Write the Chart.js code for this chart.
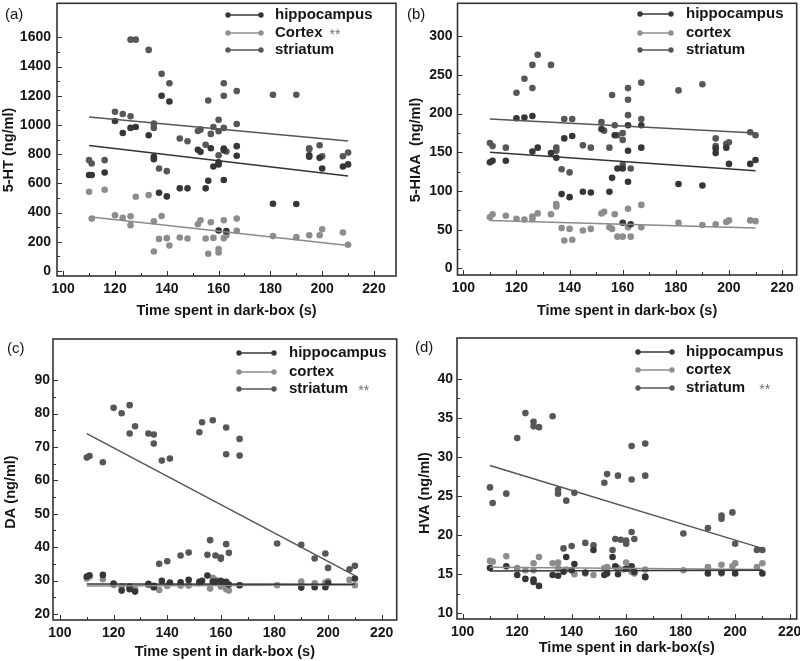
<!DOCTYPE html>
<html>
<head>
<meta charset="utf-8">
<script src="https://cdn.jsdelivr.net/npm/chart.js@4.4.0/dist/chart.umd.min.js"></script>
<style>
  html, body { margin: 0; padding: 0; background: #fff; }
  #wrap { position: relative; width: 800px; height: 661px; }
  canvas { position: absolute; }
</style>
</head>
<body>
<div id="wrap">
  <canvas id="chartA" width="400" height="320" style="left:0;top:0"></canvas>
  <canvas id="chartB" width="400" height="320" style="left:400px;top:0"></canvas>
  <canvas id="chartC" width="400" height="341" style="left:0;top:320px"></canvas>
  <canvas id="chartD" width="400" height="341" style="left:400px;top:320px"></canvas>
</div>
<script>
// Ticks
const xTicks = [100, 120, 140, 160, 180, 200, 220];
const yTicksA = [0, 200, 400, 600, 800, 1000, 1200, 1400, 1600];
const yTicksB = [0, 50, 100, 150, 200, 250, 300];
const yTicksC = [20, 30, 40, 50, 60, 70, 80, 90];
const yTicksD = [10, 15, 20, 25, 30, 35, 40];

// Regression line ends (at 110 s and 210 s)
const fitX = [110, 210];

// (a) 5-HT
const hipA = [[110,657],[111,657],[116,675],[120,1027],[123,945],[126,980],[128,986],[133,930],[135,782],[135,766],[137,536],[138,1200],[140,511],[141,1161],[145,566],[148,566],[152,830],[153,816],[155,566],[156,618],[157,841],[158,716],[160,745],[160,730],[160,277],[162,839],[162,827],[162,623],[163,273],[167,855],[167,789],[181,461],[190,459],[195,793],[195,782],[199,775],[200,702],[208,716],[210,730]];
const corA = [[110,543],[111,359],[116,557],[120,382],[123,364],[126,375],[126,314],[128,509],[133,520],[135,341],[135,134],[137,220],[138,377],[140,225],[141,175],[145,230],[148,223],[152,320],[153,348],[155,223],[156,118],[157,334],[158,227],[160,150],[160,127],[162,348],[162,225],[163,259],[163,245],[167,359],[167,275],[181,239],[190,232],[195,245],[199,245],[200,286],[208,264],[210,180]];
const strA = [[110,759],[111,736],[116,759],[120,1091],[123,1075],[126,1584],[126,1059],[128,1584],[133,1514],[135,1009],[135,980],[137,702],[138,1350],[140,684],[141,1286],[145,907],[148,889],[152,959],[153,968],[155,864],[156,1168],[157,939],[158,986],[160,1036],[160,957],[160,793],[162,1286],[162,1200],[162,980],[163,818],[167,1232],[167,1007],[181,1207],[190,1207],[195,841],[195,833],[199,861],[200,786],[208,786],[210,811]];
const fitHipA = [860, 650];
const fitCorA = [372, 175];
const fitStrA = [1055, 890];

// (b) 5-HIAA
const hipB = [[110,137],[111,139],[116,139],[120,194],[123,195],[126,197],[126,151],[128,156],[133,149],[135,143],[137,96],[138,168],[140,92],[141,171],[145,99],[148,98],[152,180],[155,99],[156,117],[157,172],[158,129],[160,129],[160,59],[162,185],[162,152],[162,112],[163,57],[167,185],[167,156],[181,109],[190,107],[195,155],[195,149],[199,156],[200,135],[208,135],[210,140]];
const corB = [[110,66],[111,70],[116,68],[120,64],[123,63],[126,67],[126,64],[128,71],[133,70],[135,83],[135,80],[137,52],[138,36],[140,51],[141,37],[145,49],[148,51],[152,71],[153,73],[155,53],[156,51],[157,70],[158,41],[160,41],[162,77],[162,53],[163,41],[167,82],[167,53],[181,59],[190,56],[195,57],[199,60],[200,62],[208,62],[210,61]];
const strB = [[110,162],[111,158],[116,156],[120,227],[123,245],[126,263],[126,233],[128,276],[133,263],[135,156],[135,152],[137,128],[138,193],[140,124],[141,193],[145,159],[148,156],[152,189],[153,178],[155,156],[156,224],[157,185],[158,172],[160,175],[160,166],[160,134],[162,233],[162,218],[162,198],[163,129],[167,240],[167,193],[181,230],[190,238],[195,168],[195,158],[199,161],[200,163],[208,176],[210,172]];
const fitHipB = [150, 126];
const fitCorB = [62, 52];
const fitStrB = [193, 175];

// (c) DA
const hipC = [[110,31.2],[111,31.6],[116,31.7],[120,29.1],[123,27.0],[126,28.2],[126,27.4],[128,26.7],[133,29.0],[135,28.4],[135,28.0],[138,29.9],[141,29.4],[145,29.5],[148,30.2],[152,29.6],[153,29.9],[155,31.5],[157,29.7],[158,29.7],[160,29.9],[162,29.6],[162,29.2],[163,28.8],[167,28.6],[190,27.9],[195,28.0],[199,28.0],[200,29.2],[210,30.6]];
const corC = [[110,30.6],[111,31.2],[116,30.4],[120,28.7],[123,28.2],[126,27.6],[128,27.4],[133,28.7],[135,28.0],[137,27.2],[140,28.4],[145,28.5],[148,28.5],[152,29.2],[156,27.6],[157,30.8],[158,30.2],[160,28.2],[162,27.4],[163,27.0],[167,28.6],[181,28.6],[190,29.7],[195,29.2],[199,29.4],[200,29.8],[208,30.2],[210,28.6]];
const strC = [[110,66.8],[111,67.3],[116,65.4],[120,81.7],[123,80.1],[126,82.5],[126,74.0],[128,76.2],[133,74.0],[135,73.7],[135,71.0],[137,35.0],[138,65.9],[140,35.8],[141,66.5],[145,37.5],[148,38.4],[152,74.4],[153,77.4],[155,37.7],[156,42.1],[157,78.0],[158,37.5],[160,36.9],[160,36.5],[162,75.8],[162,67.8],[162,40.9],[163,38.3],[167,72.4],[167,67.4],[181,41.1],[190,40.7],[195,36.6],[199,38.1],[200,33.8],[208,33.4],[210,34.4]];
const fitHipC = [29.0, 28.9];
const fitCorC = [28.4, 28.7];
const fitStrC = [74.0, 31.5];

// (d) HVA
const hipD = [[110,15.8],[116,16.0],[120,14.9],[123,14.4],[126,14.3],[126,14.0],[128,13.5],[133,14.9],[135,14.8],[137,15.3],[138,17.2],[140,15.5],[141,16.3],[145,15.2],[148,18.1],[152,14.9],[153,15.1],[155,17.2],[156,16.0],[157,15.0],[160,15.7],[162,16.0],[163,15.3],[167,14.7],[167,14.6],[190,15.1],[195,15.2],[200,15.1],[210,15.1]];
const corD = [[110,16.7],[111,16.6],[116,17.3],[120,15.8],[123,15.5],[126,16.4],[126,15.5],[128,17.2],[133,16.4],[135,16.5],[135,15.8],[138,15.6],[141,15.0],[145,15.1],[148,14.9],[152,15.8],[153,15.9],[157,15.8],[159,15.6],[160,16.5],[162,15.3],[163,15.1],[167,15.6],[181,15.5],[190,15.9],[195,16.2],[195,15.1],[199,16.0],[200,16.4],[208,15.9],[210,16.4]];
const strD = [[110,26.1],[111,24.1],[116,25.3],[120,32.4],[123,35.6],[126,34.5],[126,33.9],[128,33.8],[133,35.2],[135,25.8],[135,25.3],[137,18.3],[138,24.4],[140,18.6],[141,25.4],[145,19.0],[148,18.7],[152,26.7],[153,27.8],[155,18.1],[156,19.5],[157,27.6],[158,19.4],[160,19.3],[160,18.9],[162,31.4],[162,27.1],[162,20.4],[163,19.5],[167,31.7],[167,27.6],[181,20.2],[190,20.9],[195,22.5],[195,22.1],[199,22.9],[200,18.9],[208,18.1],[210,18.1]];
const fitHipD = [15.4, 15.5];
const fitCorD = [15.9, 15.6];
const fitStrD = [28.9, 18.3];

// Legend texts
const legendA = ['hippocampus', 'Cortex', 'striatum'];
const legendB = ['hippocampus', 'cortex', 'striatum'];
const starsA = ['', '**', ''];
const starsB = ['', '', ''];
const starsCD = ['', '', '**'];

const HIP = '#363636';
const COR = '#8d8d8d';
const STR = '#575757';
const TEXT = '#161616';
const FONT = '"Liberation Sans", Arial, sans-serif';

function pts(arr) {
    return arr.map(p => ({ x: p[0], y: p[1] }));
}

function fitLine(vals) {
    return fitX.map((x, i) => ({ x: x, y: vals[i] }));
}

// marco, marcas hacia dentro, título Y, etiqueta del panel y leyenda
const framePlugin = {
    id: 'frame',
    afterDraw(chart, args, o) {
        const ctx = chart.ctx;
        const a = chart.chartArea;
        const xs = chart.scales.x, ys = chart.scales.y;
        ctx.save();

        ctx.strokeStyle = '#333';
        ctx.lineWidth = 1;
        ctx.beginPath();
        o.xTicks.forEach((v, i) => {
            const px = Math.round(xs.getPixelForValue(v)) + 0.5;
            ctx.moveTo(px, a.bottom); ctx.lineTo(px, a.bottom - 5);
            if (i < o.xTicks.length - 1) {
                const m = Math.round(xs.getPixelForValue((v + o.xTicks[i + 1]) / 2)) + 0.5;
                ctx.moveTo(m, a.bottom); ctx.lineTo(m, a.bottom - 3);
            }
        });
        o.yTicks.forEach((v, i) => {
            const py = Math.round(ys.getPixelForValue(v)) + 0.5;
            ctx.moveTo(a.left, py); ctx.lineTo(a.left + 5, py);
            if (i < o.yTicks.length - 1) {
                const m = Math.round(ys.getPixelForValue((v + o.yTicks[i + 1]) / 2)) + 0.5;
                ctx.moveTo(a.left, m); ctx.lineTo(a.left + 3, m);
            }
        });
        ctx.stroke();

        ctx.lineWidth = 1.6;
        ctx.strokeRect(a.left, a.top, a.right - a.left, a.bottom - a.top);

        // título del eje Y
        ctx.save();
        ctx.translate(o.yTitleX, o.yTitleY);
        ctx.rotate(-Math.PI / 2);
        ctx.font = 'bold 14.5px ' + FONT;
        ctx.fillStyle = TEXT;
        ctx.textAlign = 'center';
        ctx.textBaseline = 'middle';
        ctx.fillText(o.yTitle, 0, 0);
        ctx.restore();

        // (a), (b)...
        ctx.font = '15px ' + FONT;
        ctx.fillStyle = TEXT;
        ctx.textAlign = 'left';
        ctx.textBaseline = 'middle';
        ctx.fillText(o.tag, o.tagX, o.tagY);

        // leyenda
        const L = o.legend;
        const cols = [HIP, COR, STR];
        L.labels.forEach((txt, i) => {
            const y = L.rows[i];
            ctx.strokeStyle = cols[i];
            ctx.fillStyle = cols[i];
            ctx.lineWidth = 1.5;
            ctx.beginPath();
            ctx.moveTo(L.x0, y); ctx.lineTo(L.x1, y);
            ctx.stroke();
            [L.x0, L.x1].forEach(px => {
                ctx.beginPath();
                ctx.arc(px, y, 2.7, 0, Math.PI * 2);
                ctx.fill();
            });
            ctx.font = 'bold 15px ' + FONT;
            ctx.fillStyle = TEXT;
            ctx.fillText(txt, L.tx, y);
            if (L.stars[i]) {
                const w = ctx.measureText(txt).width;
                ctx.font = '14px ' + FONT;
                ctx.fillStyle = '#707070';
                ctx.fillText(L.stars[i], L.tx + w + L.starGap, y + 2);
            }
        });
        ctx.restore();
    }
};

function makePanel(id, p) {
    const c = document.getElementById(id);
    const W = c.width, H = c.height;
    const tickFont = { family: FONT, size: 14, weight: 'bold' };
    const dot = (label, data, col) => ({
        label: label, data: pts(data), backgroundColor: col, borderColor: col,
        pointRadius: 3.3, pointHoverRadius: 3.3, borderWidth: 0, showLine: false, order: 2
    });
    const line = (vals, col) => ({
        data: fitLine(vals), borderColor: col, backgroundColor: col,
        borderWidth: 1.5, pointRadius: 0, showLine: true, order: 1
    });

    return new Chart(c, {
        type: 'scatter',
        data: {
            datasets: [
                dot('hippocampus', p.hip, HIP),
                dot('cortex', p.cor, COR),
                dot('striatum', p.str, STR),
                line(p.fitHip, '#333'),
                line(p.fitCor, '#8a8a8a'),
                line(p.fitStr, '#555')
            ]
        },
        options: {
            responsive: false,
            animation: false,
            layout: { padding: { left: 0, top: p.box[1], right: W - p.box[2], bottom: 0 } },
            plugins: {
                legend: { display: false },
                tooltip: { enabled: false },
                frame: {
                    xTicks: xTicks, yTicks: p.yTicks, yTitle: p.yTitle,
                    yTitleX: p.yTitleX, yTitleY: p.yTitleY,
                    tag: p.tag, tagX: p.tagX, tagY: p.tagY, legend: p.legend
                }
            },
            scales: {
                x: {
                    type: 'linear', min: p.xMin, max: p.xMax,
                    grid: { display: false, drawTicks: false },
                    border: { display: false },
                    ticks: { font: tickFont, color: TEXT, padding: 5, maxRotation: 0, autoSkip: false, callback: v => String(v) },
                    afterBuildTicks: s => { s.ticks = xTicks.map(v => ({ value: v })); },
                    afterFit: s => { s.height = H - p.box[3]; s.paddingLeft = 0; s.paddingRight = 0; },
                    title: {
                        display: true, text: p.xTitle, color: TEXT,
                        font: { family: FONT, size: 14.5, weight: 'bold' },
                        padding: { top: 0, bottom: p.xTitlePad }
                    }
                },
                y: {
                    type: 'linear', min: p.yMin, max: p.yMax,
                    grid: { display: false, drawTicks: false },
                    border: { display: false },
                    ticks: { font: tickFont, color: TEXT, padding: p.yPad, autoSkip: false, callback: v => String(v) },
                    afterBuildTicks: s => { s.ticks = p.yTicks.map(v => ({ value: v })); },
                    afterFit: s => { s.width = p.box[0]; s.paddingTop = 0; s.paddingBottom = 0; }
                }
            }
        },
        plugins: [framePlugin]
    });
}

document.addEventListener('DOMContentLoaded', function () {
    makePanel('chartA', {
        hip: hipA, cor: corA, str: strA, fitHip: fitHipA, fitCor: fitCorA, fitStr: fitStrA,
        box: [57, 1, 396, 276], xMin: 97.6, xMax: 228.5, yMin: -34, yMax: 1833,
        yTicks: yTicksA, yPad: 6, yTitle: '5-HT (ng/ml)', yTitleX: 9, yTitleY: 150,
        xTitle: 'Time spent in dark-box (s)', xTitlePad: 0,
        tag: '(a)', tagX: 5, tagY: 15,
        legend: { labels: legendA, stars: starsA, starGap: 7, x0: 228, x1: 261, tx: 275, rows: [15, 33, 50] }
    });
    makePanel('chartB', {
        hip: hipB, cor: corB, str: strB, fitHip: fitHipB, fitCor: fitCorB, fitStr: fitStrB,
        box: [57.5, 1, 397, 275], xMin: 97.8, xMax: 225.5, yMin: -8.6, yMax: 342.6,
        yTicks: yTicksB, yPad: 5, yTitle: '5-HIAA  (ng/ml)', yTitleX: 16, yTitleY: 150,
        xTitle: 'Time spent in dark-box (s)', xTitlePad: 0,
        tag: '(b)', tagX: 7, tagY: 15,
        legend: { labels: legendB, stars: starsB, starGap: 7, x0: 240, x1: 271, tx: 286, rows: [14, 33, 50] }
    });
    makePanel('chartC', {
        hip: hipC, cor: corC, str: strC, fitHip: fitHipC, fitCor: fitCorC, fitStr: fitStrC,
        box: [53, 19, 397, 300], xMin: 97.4, xMax: 225.6, yMin: 18.2, yMax: 102.3,
        yTicks: yTicksC, yPad: 3, yTitle: 'DA (ng/ml)', yTitleX: 11, yTitleY: 172,
        xTitle: 'Time spent in dark-box (s)', xTitlePad: 0,
        tag: '(c)', tagX: 7, tagY: 29,
        legend: { labels: legendB, stars: starsCD, starGap: 10, x0: 239, x1: 274, tx: 289, rows: [33, 52, 69] }
    });
    makePanel('chartD', {
        hip: hipD, cor: corD, str: strD, fitHip: fitHipD, fitCor: fitCorD, fitStr: fitStrD,
        box: [57, 18, 397.7, 299], xMin: 97.9, xMax: 222.6, yMin: 9.27, yMax: 45.2,
        yTicks: yTicksD, yPad: 4, yTitle: 'HVA (ng/ml)', yTitleX: 25, yTitleY: 173,
        xTitle: 'Time spent in dark-box(s)', xTitlePad: 4,
        tag: '(d)', tagX: 15, tagY: 28,
        legend: { labels: legendB, stars: starsCD, starGap: 14, x0: 238, x1: 272, tx: 286, rows: [32, 50, 68] }
    });
});
</script>
</body>
</html>
